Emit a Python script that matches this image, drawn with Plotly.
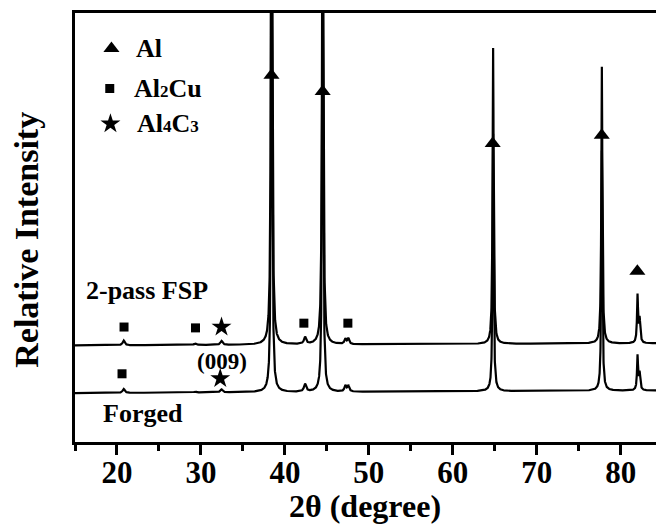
import numpy as np
import plotly.graph_objects as go

# ---- data ----
# diffraction peaks: position (2θ, degree), height above baseline (a.u.), FWHM (degree)
peak_pos = [20.8, 29.3, 32.45, 38.42, 42.4, 44.5, 47.2, 47.55, 64.8, 77.75, 82.0, 82.25]
fsp_height = [11, 4, 9, 1800, 16, 1500, 12, 13, 690, 645, 110, 55]
forged_height = [9, 2, 7, 1400, 18, 1200, 14, 14, 600, 560, 80, 40]
peak_fwhm = [0.3, 0.3, 0.3, 0.15, 0.3, 0.15, 0.25, 0.25, 0.15, 0.15, 0.15, 0.18]
# baseline level (a.u.) at 15° and at 85°
fsp_baseline = [225, 230]
forged_baseline = [114, 120]
scan_range = [15, 85]

# phase markers
al_x = [38.4, 44.5, 64.75, 77.74, 81.98]
al_y = [855, 817, 696, 715, 398]
al2cu_x = [20.84, 29.35, 42.26, 47.5, 20.6]
al2cu_y = [268, 266, 277, 277, 159]
al4c3_x = [32.45, 32.3]
al4c3_y = [268, 148]

# legend entries (x, y of marker, x of text)
legend_marker_x = [19.34, 19.14, 19.22]
legend_y = [917, 824, 742]
legend_text_x = [22.0, 21.84, 22.1]
legend_labels = ["Al",
                 "Al<span style='font-size:17px'>2</span>Cu",
                 "Al<span style='font-size:17px'>4</span>C<span style='font-size:17px'>3</span>"]
legend_symbols = ["triangle-up", "square", "star"]

x_ticks = [20, 30, 40, 50, 60, 70, 80]

# ---- build profiles ----
two_theta = np.arange(scan_range[0], scan_range[1] + 0.001, 0.01)


def profile(heights, base):
    y = base[0] + (base[1] - base[0]) * (two_theta - scan_range[0]) / (scan_range[1] - scan_range[0])
    for p, h, w in zip(peak_pos, heights, peak_fwhm):
        y = y + h / (1 + (2 * (two_theta - p) / w) ** 2)
    return y


fsp = profile(fsp_height, fsp_baseline)
forged = profile(forged_height, forged_baseline)

FONT = "Liberation Serif"
sizes = {"triangle-up": 14, "square": 9, "star": 15}

fig = go.Figure()
fig.add_trace(go.Scatter(x=two_theta, y=forged, mode="lines",
                         line=dict(color="black", width=2.2), showlegend=False))
fig.add_trace(go.Scatter(x=two_theta, y=fsp, mode="lines",
                         line=dict(color="black", width=2.2), showlegend=False))

fig.add_trace(go.Scatter(x=al_x, y=al_y, mode="markers", showlegend=False,
                         marker=dict(symbol="triangle-up", size=sizes["triangle-up"], color="black")))
fig.add_trace(go.Scatter(x=al2cu_x, y=al2cu_y, mode="markers", showlegend=False,
                         marker=dict(symbol="square", size=sizes["square"], color="black")))
fig.add_trace(go.Scatter(x=al4c3_x, y=al4c3_y, mode="markers", showlegend=False,
                         marker=dict(symbol="star", size=sizes["star"], color="black")))

for mx, my, sym in zip(legend_marker_x, legend_y, legend_symbols):
    fig.add_trace(go.Scatter(x=[mx], y=[my], mode="markers", showlegend=False,
                             marker=dict(symbol=sym, size=sizes[sym], color="black")))
for tx, ty, lab in zip(legend_text_x, legend_y, legend_labels):
    fig.add_annotation(x=tx, y=ty, text="<b>" + lab + "</b>", showarrow=False,
                       xanchor="left", yanchor="middle",
                       font=dict(family=FONT, size=26, color="black"))

fig.add_annotation(x=16.04, y=352, text="<b>2-pass FSP</b>", showarrow=False,
                   xanchor="left", yanchor="middle", font=dict(family=FONT, size=26, color="black"))
fig.add_annotation(x=18.15, y=67, text="<b>Forged</b>", showarrow=False,
                   xanchor="left", yanchor="middle", font=dict(family=FONT, size=26, color="black"))
fig.add_annotation(x=32.45, y=188, text="<b>(009)</b>", showarrow=False,
                   xanchor="center", yanchor="middle", font=dict(family=FONT, size=23, color="black"))

fig.add_annotation(xref="paper", yref="paper", x=-0.083, y=0.471, text="<b>Relative Intensity</b>",
                   textangle=-90, showarrow=False, xanchor="center", yanchor="middle",
                   font=dict(family=FONT, size=34, color="black"))
fig.add_annotation(xref="paper", yref="paper", x=0.499, y=-0.149, text="<b>2θ (degree)</b>",
                   showarrow=False, xanchor="center", yanchor="middle",
                   font=dict(family=FONT, size=32, color="black"))

fig.update_xaxes(range=[15, 84.2], tickmode="array", tickvals=x_ticks,
                 ticks="outside", ticklen=10, tickwidth=2.5, tickcolor="black",
                 ticklabelstandoff=-9,
                 showline=True, linewidth=2.5, linecolor="black", mirror=True,
                 showgrid=False, zeroline=False,
                 tickfont=dict(family=FONT, size=31, color="black", weight="bold"),
                 minor=dict(tickvals=[15, 25, 35, 45, 55, 65, 75], ticks="outside",
                            ticklen=6, tickwidth=2.5, tickcolor="black", showgrid=False))
fig.update_yaxes(range=[0, 1000], showticklabels=False, ticks="",
                 showline=True, linewidth=2.5, linecolor="black", mirror=False,
                 showgrid=False, zeroline=False)

fig.update_layout(width=656, height=524, margin=dict(l=75, r=0, t=13, b=82),
                  plot_bgcolor="white", paper_bgcolor="white", showlegend=False)

fig.write_html("out.html", config={"displayModeBar": False},
               post_script="document.body.style.margin='0px';document.body.style.overflow='hidden';")
